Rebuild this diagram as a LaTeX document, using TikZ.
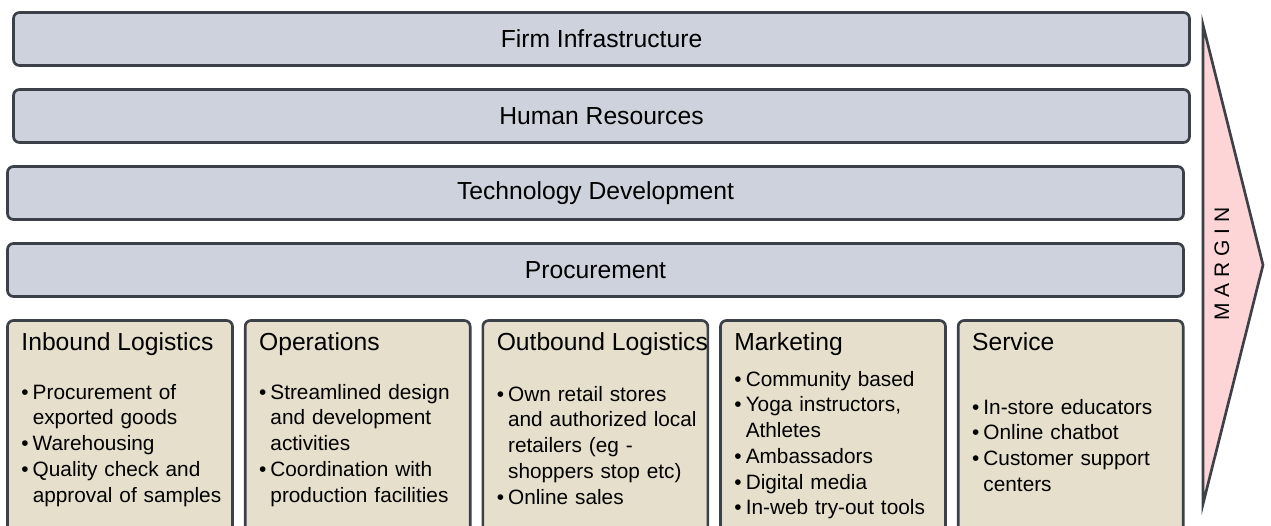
\documentclass[tikz,border=0pt]{standalone}
\usepackage{fontspec}
\setmainfont{Liberation Sans}
\usetikzlibrary{positioning, calc}
\definecolor{barfill}{HTML}{CDD2DC}
\definecolor{boxfill}{HTML}{E5DFCB}
\definecolor{arrowfill}{HTML}{FDD5D6}
\definecolor{edgegray}{HTML}{3B4049}
\tikzset{
    support/.style={rectangle, draw=edgegray, line width=2pt, rounded corners=4.5pt, fill=barfill, minimum width=882pt, minimum height=39.75pt, font=\fontsize{18.5}{22}\selectfont},
    primary/.style={rectangle, draw=edgegray, line width=2pt, rounded corners=4.5pt, fill=boxfill, minimum width=168.75pt, minimum height=190pt},
    heading/.style={anchor=base west, inner sep=0pt, font=\fontsize{18.5}{22}\selectfont},
    bullets/.style={anchor=west, align=left, text width=162pt, inner sep=0pt, font=\fontsize{15.6}{19.3}\selectfont},
    margin/.style={draw=edgegray, line width=2pt, fill=arrowfill}
}
\newcommand{\bitem}[1]{\noindent\hangindent=8.5pt\hangafter=1\makebox[8.5pt][l]{\textbullet}#1\par}

\begin{document}
\begin{tikzpicture}[x=0.75pt, y=0.75pt, node distance=16pt]
\useasboundingbox (0,0) rectangle (1271,525);
\clip (0,0) rectangle (1271,525);

% margin arrow behind everything
\draw[margin] (1203,500) -- (1203,21) -- (1263,260) -- cycle;
\node[rotate=90, inner sep=0pt, font=\fontsize{15.75}{18}\selectfont\addfontfeatures{LetterSpace=28}] (marginlabel) at (1222,261) {MARGIN};

% support activities
\node[support] (firm) at (601.5,486) {Firm Infrastructure};
\node[support, below=of firm] (hr) {Human Resources};
\node[support, below=of hr, xshift=-4.5pt] (tech) {Technology Development};
\node[support, below=of tech] (proc) {Procurement};

% primary activities
\node[primary, below=16pt of proc.south west, anchor=north west] (inbound) {};
\node[primary, right=7.5pt of inbound] (ops) {};
\node[primary, right=7.5pt of ops] (outbound) {};
\node[primary, right=7.5pt of outbound] (mkt) {};
\node[primary, right=7.5pt of mkt] (service) {};

\node[heading] (inboundhead) at ($(inbound.north west)+(15,-31)$) {Inbound Logistics};
\node[heading] (opshead) at ($(ops.north west)+(15,-31)$) {Operations};
\node[heading] (outboundhead) at ($(outbound.north west)+(15,-31)$) {Outbound Logistics};
\node[heading] (mkthead) at ($(mkt.north west)+(15,-31)$) {Marketing};
\node[heading] (servicehead) at ($(service.north west)+(15,-31)$) {Service};

\node[bullets] (inboundlist) at ($(inbound.north west)+(15,-126)$) {%
  \bitem{Procurement of\newline exported goods}
  \bitem{Warehousing}
  \bitem{Quality check and\newline approval of samples}};
\node[bullets] (opslist) at ($(ops.north west)+(15,-126)$) {%
  \bitem{Streamlined design\newline and development\newline activities}
  \bitem{Coordination with\newline production facilities}};
\node[bullets] (outboundlist) at ($(outbound.north west)+(15,-126)$) {%
  \bitem{Own retail stores\newline and authorized local\newline retailers (eg -\newline shoppers stop etc)}
  \bitem{Online sales}};
\node[bullets] (mktlist) at ($(mkt.north west)+(15,-126)$) {%
  \bitem{Community based}
  \bitem{Yoga instructors,\newline Athletes}
  \bitem{Ambassadors}
  \bitem{Digital media}
  \bitem{In-web try-out tools}};
\node[bullets] (servicelist) at ($(service.north west)+(15,-126)$) {%
  \bitem{In-store educators}
  \bitem{Online chatbot}
  \bitem{Customer support\newline centers}};
\end{tikzpicture}
\end{document}
